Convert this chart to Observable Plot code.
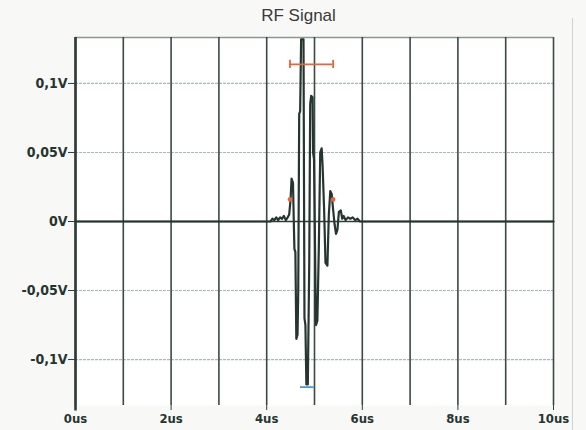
<!DOCTYPE html>
<html>
<head>
<meta charset="utf-8">
<script src="https://cdn.jsdelivr.net/npm/d3@7"></script>
<script src="https://cdn.jsdelivr.net/npm/@observablehq/plot@0.6"></script>
<style>
  html, body { margin: 0; padding: 0; background: #f8f8f6; }
  #chart { position: relative; width: 586px; height: 430px; overflow: hidden; }
  #edge { position: absolute; left: 572px; top: 18px; width: 1px; height: 412px; background: #cfd3cf; }
  g[aria-label="x-axis tick label"] text, g[aria-label="y-axis tick label"] text {
    font-family: "DejaVu Sans Condensed", "DejaVu Sans", sans-serif; font-weight: bold; }
  g[aria-label="text"] text { font-family: "Liberation Sans", Arial, sans-serif; }
</style>
</head>
<body>
<div id="chart"><div id="edge"></div></div>
<script>
// ---- data ----
const signalTime = [0, 4.08, 4.12, 4.16, 4.2, 4.24, 4.28, 4.32, 4.36, 4.40, 4.44, 4.47,
  4.50, 4.52, 4.55, 4.57, 4.58, 4.60, 4.62, 4.645, 4.66, 4.68, 4.70, 4.72, 4.77,
  4.79, 4.81, 4.83, 4.86, 4.89, 4.91, 4.93, 4.96, 4.97, 4.99, 5.03, 5.06, 5.09,
  5.12, 5.15, 5.17, 5.20, 5.23, 5.27, 5.30, 5.33, 5.36, 5.38, 5.42, 5.45, 5.48,
  5.51, 5.55, 5.58, 5.61, 5.65, 5.70, 5.75, 5.80, 5.85, 5.90, 5.95, 6.0, 10];
const signalVolt = [0, 0, 0.002, 0.001, 0.003, 0.001, 0.003, 0.002, 0.004, 0.001, 0.003, 0.005,
  0.016, 0.031, 0.028, -0.005, -0.02, -0.022, -0.085, -0.082, -0.05, 0.078, 0.08, 0.132, 0.132,
  -0.07, -0.075, -0.118, -0.118, -0.03, 0.085, 0.091, 0.09, 0.05, 0.045, -0.075, -0.072, -0.02,
  0.05, 0.053, 0.04, 0.01, -0.03, -0.032, 0.005, 0.022, 0.02, 0.012, -0.002, -0.009, -0.006,
  0.007, 0.008, 0.002, 0.004, 0.001, 0.003, 0.002, 0.003, 0.001, 0.002, 0, 0, 0];

const xTicks = [0, 2, 4, 6, 8, 10];
const xTickLabels = ["0us", "2us", "4us", "6us", "8us", "10us"];
const xGrid = [0, 1, 2, 3, 4, 5, 6, 7, 8, 9, 10];
const yTicks = [-0.1, -0.05, 0, 0.05, 0.1];
const yTickLabels = ["-0,1V", "-0,05V", "0V", "0,05V", "0,1V"];

// markers
const widthBar = [{v: 0.1138, t1: 4.487, t2: 5.39}];
const widthDots = [{t: 4.487, v: 0.016}, {t: 5.39, v: 0.016}];
const minBar = [{v: -0.12, t1: 4.707, t2: 4.993}];

const yMax = 0.1333, yMin = -0.1333;
const signal = signalTime.map((t, i) => ({t, v: signalVolt[i]}));
const caps = widthDots.map(d => ({t: d.t, a: widthBar[0].v - 0.003, b: widthBar[0].v + 0.003}));

const plot = Plot.plot({
  width: 586, height: 430,
  marginLeft: 75, marginRight: 33, marginTop: 37, marginBottom: 25,
  style: {background: "transparent", overflow: "visible"},
  x: {domain: [0, 10]},
  y: {domain: [yMin, yMax]},
  marks: [
    Plot.frame({fill: "#ffffff", stroke: "none"}),
    Plot.ruleY(yTicks.filter(d => d !== 0), {x1: 0, x2: 10, stroke: "#a9b8bf", strokeWidth: 1.2, strokeDasharray: "3,1"}),
    Plot.ruleY([yMax], {x1: 0, x2: 10, stroke: "#8b9792", strokeWidth: 1.5}),
    Plot.ruleX(xGrid, {y1: yMin, y2: yMax, stroke: "#3a4944", strokeWidth: 1.6}),
    Plot.ruleX([0], {y1: yMin - 0.004, y2: yMax, stroke: "#2f3d38", strokeWidth: 2.6}),
    Plot.ruleY([0], {x1: 0, x2: 10, stroke: "#2f3d38", strokeWidth: 1.6}),
    Plot.line(signal, {x: "t", y: "v", stroke: "#26352f", strokeWidth: 2.2}),
    Plot.ruleY(widthBar, {y: "v", x1: "t1", x2: "t2", stroke: "#e8643c", strokeWidth: 1.8}),
    Plot.ruleX(caps, {x: "t", y1: "a", y2: "b", stroke: "#e8643c", strokeWidth: 1.8}),
    Plot.dot(widthDots, {x: "t", y: "v", r: 2.3, fill: "#e8643c"}),
    Plot.ruleY(minBar, {y: "v", x1: "t1", x2: "t2", stroke: "#4f93d2", strokeWidth: 1.8}),
    Plot.axisX({ticks: xTicks, tickFormat: d => xTickLabels[xTicks.indexOf(d)], tickSize: 5, tickPadding: 3,
      fontSize: 13, fill: "#243530", stroke: "#2f3d38", label: null}),
    Plot.axisY({ticks: yTicks, tickFormat: d => yTickLabels[yTicks.indexOf(d)], tickSize: 7, tickPadding: 1,
      fontSize: 14, fill: "#243530", stroke: "#2f3d38", label: null}),
    Plot.text(["RF Signal"], {frameAnchor: "top", dx: -16, dy: -17, lineAnchor: "bottom",
      fontSize: 17, fill: "#3a3a3a", fontFamily: "Liberation Sans, Arial, sans-serif"})
  ]
});
document.getElementById("chart").appendChild(plot);
</script>
</body>
</html>
